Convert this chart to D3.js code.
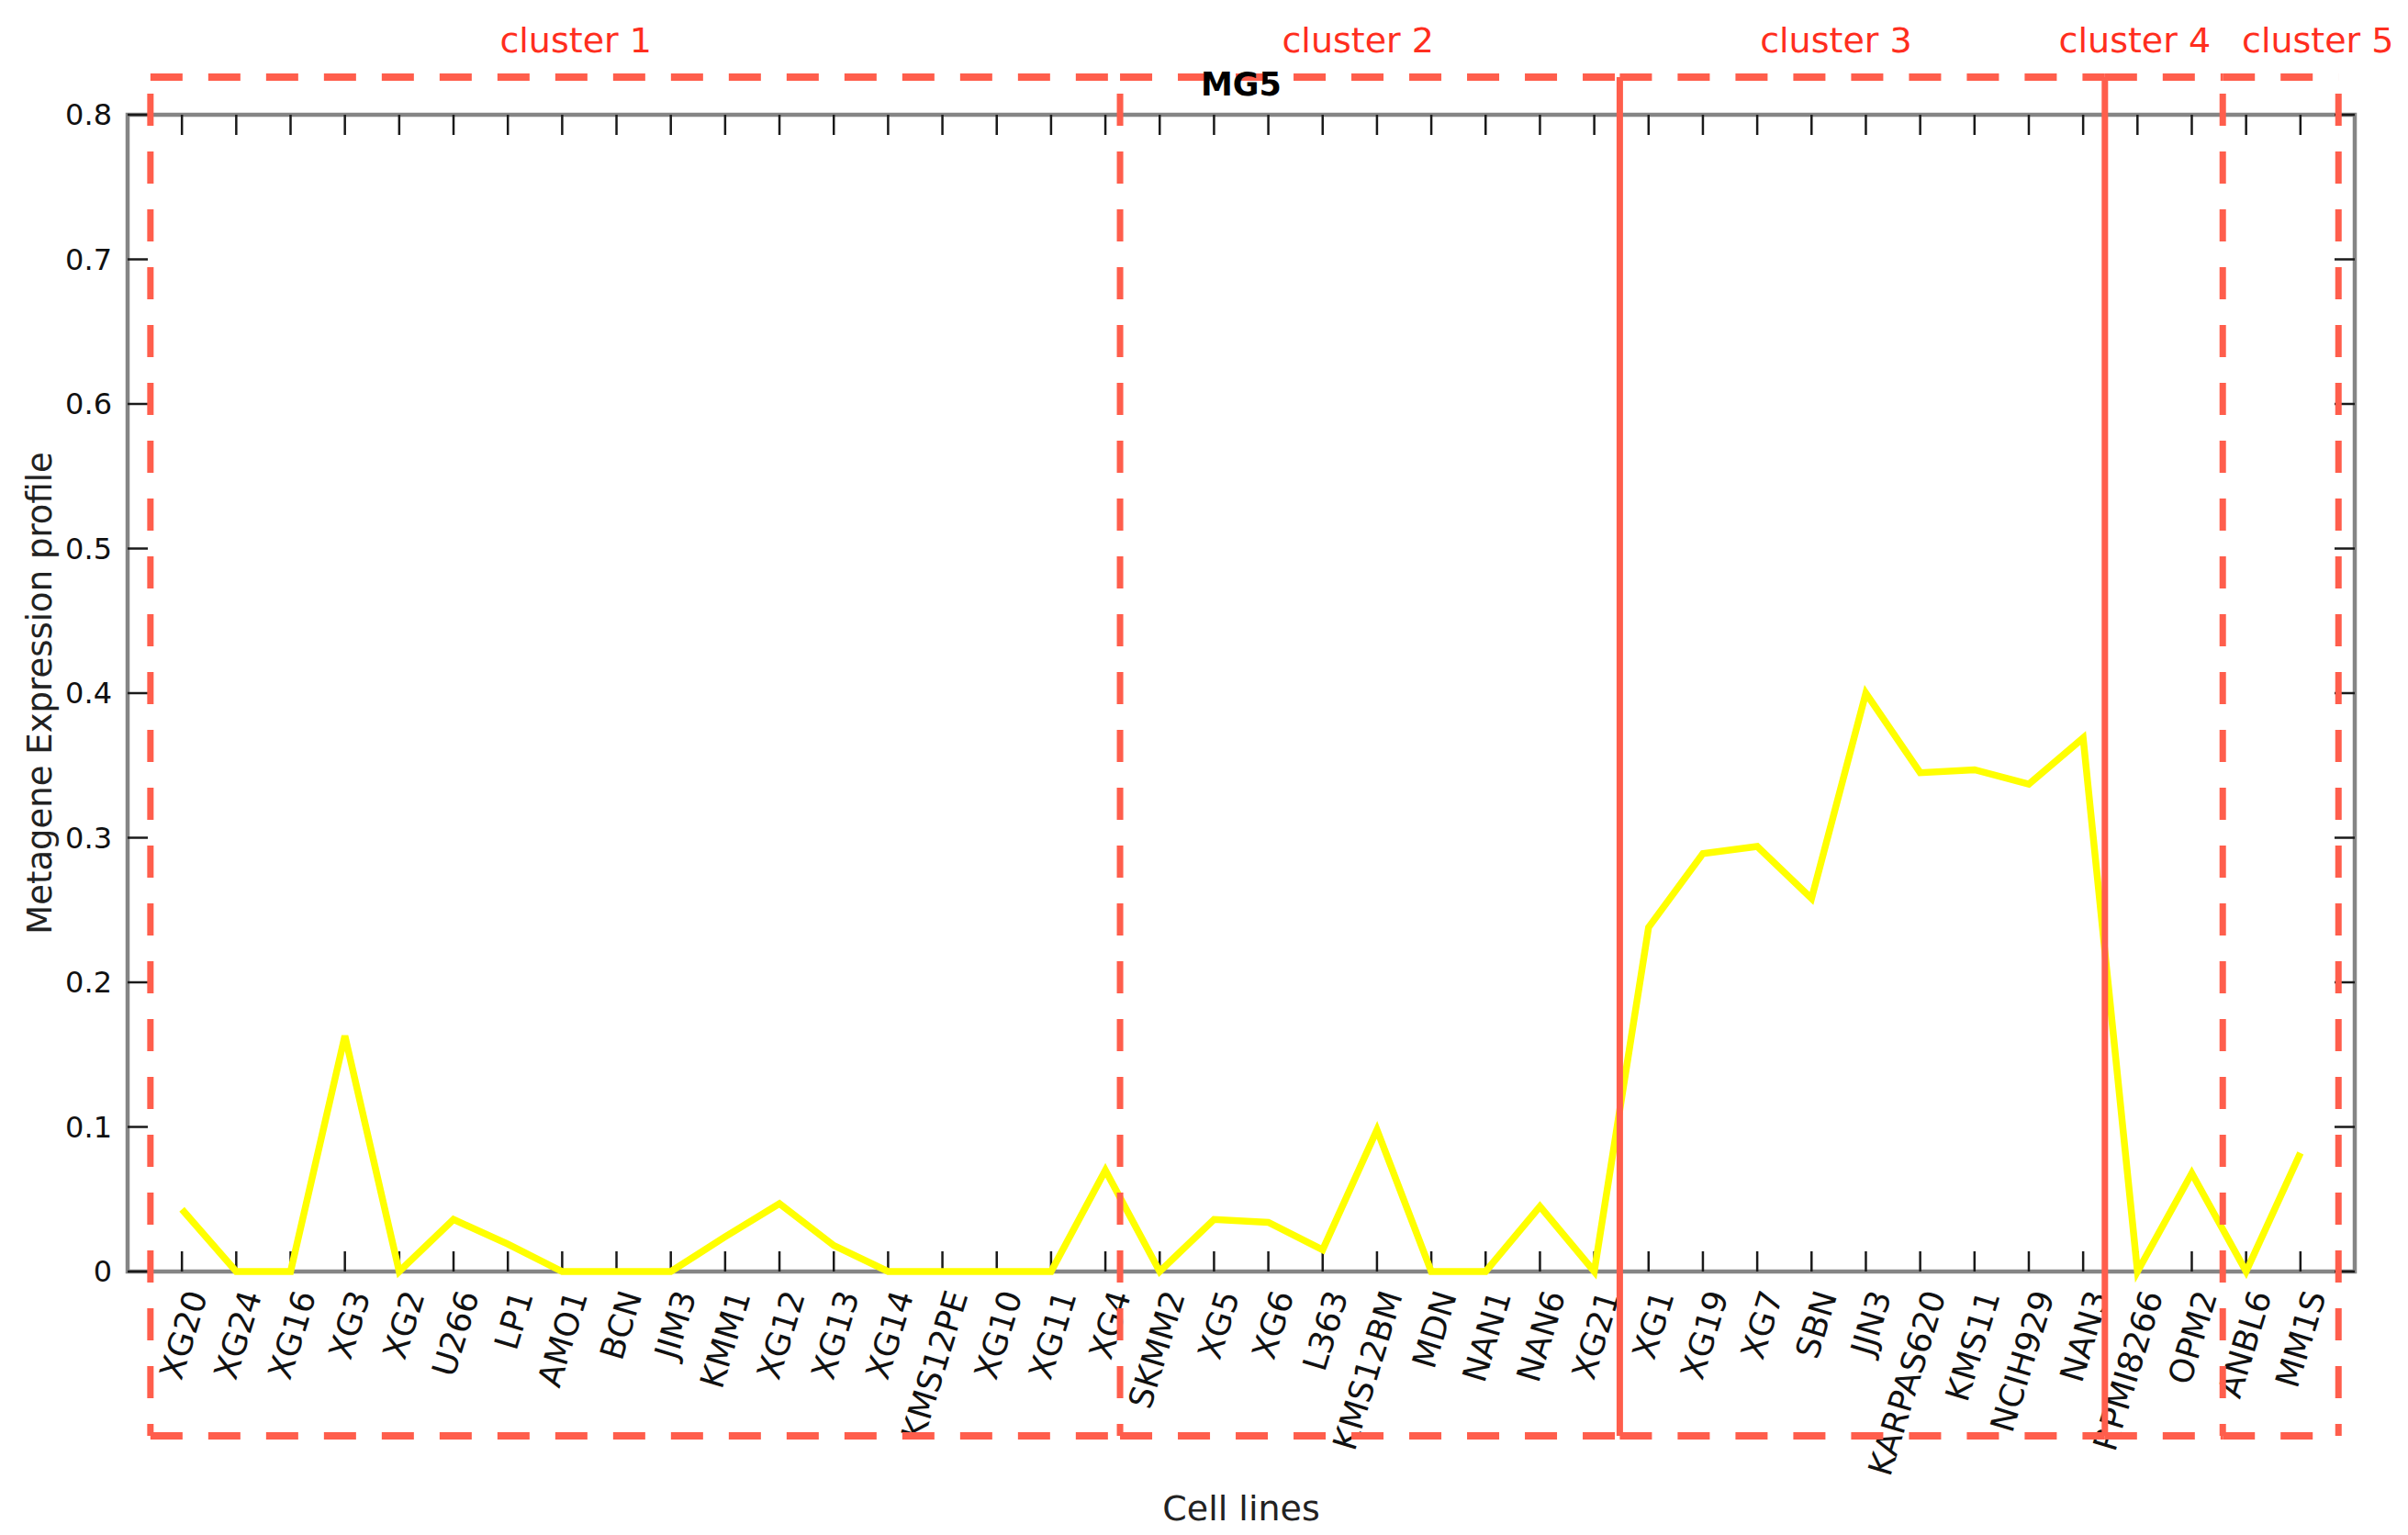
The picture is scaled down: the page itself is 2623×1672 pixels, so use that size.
<!DOCTYPE html>
<html>
<head>
<meta charset="utf-8">
<script src="https://cdn.jsdelivr.net/npm/d3@7"></script>
<style>
  html, body { margin: 0; padding: 0; background: #ffffff; }
  svg { display: block; }
  text { font-family: "DejaVu Sans", "Liberation Sans", sans-serif; }
</style>
</head>
<body>
<svg id="chart" width="2623" height="1672"></svg>
<script>
// ---------------- data ----------------
const categories = ["XG20","XG24","XG16","XG3","XG2","U266","LP1","AMO1","BCN","JIM3",
  "KMM1","XG12","XG13","XG14","KMS12PE","XG10","XG11","XG4",
  "SKMM2","XG5","XG6","L363","KMS12BM","MDN","NAN1","NAN6","XG21",
  "XG1","XG19","XG7","SBN","JJN3","KARPAS620","KMS11","NCIH929","NAN3",
  "RPMI8266","OPM2","ANBL6","MM1S"];
const values = [0.043,0,0,0.163,0,0.036,0.019,0,0,0,
  0.024,0.047,0.018,0,0,0,0,0.070,
  0,0.036,0.034,0.015,0.098,0,0,0.045,0,
  0.238,0.289,0.294,0.258,0.400,0.345,0.347,0.337,0.369,
  0,0.068,0,0.082];
const yTicks = [0,0.1,0.2,0.3,0.4,0.5,0.6,0.7,0.8];
const yTickLabels = ["0","0.1","0.2","0.3","0.4","0.5","0.6","0.7","0.8"];
const clusterNames = ["cluster 1","cluster 2","cluster 3","cluster 4","cluster 5"];
// cluster box edges and label centres, in category-index units (1 = first cell line)
const clusterEdges = [0.42, 18.27, 27.47, 36.4, 38.57, 40.7];
const clusterLabelAt = [8.25, 22.65, 31.45, 36.95, 40.32];
const titleText = "MG5";
const xLabel = "Cell lines";
const yLabel = "Metagene Expression profile";

// ---------------- layout ----------------
const L = 139, R = 2565, T = 125, B = 1385;
const boxTop = 84, boxBottom = 1564;
const svg = d3.select("#chart");

const x = d3.scaleLinear().domain([0, categories.length + 1]).range([L, R]);
const y = d3.scaleLinear().domain([0, 0.8]).range([B, T]);
const idx = d3.range(1, categories.length + 1);

const tickColor = "#1a1a1a";
const axisColor = "#858585";
const red = "#FF5E4C";

// axes box
svg.append("rect").attr("x", L).attr("y", T).attr("width", R - L).attr("height", B - T)
  .attr("fill", "none").attr("stroke", axisColor).attr("stroke-width", 4.5);

// x ticks (bottom & top, inward)
const xt = svg.append("g");
xt.selectAll("line.b").data(idx).join("line").attr("class", "b")
  .attr("x1", d => x(d)).attr("x2", d => x(d)).attr("y1", B).attr("y2", B - 22)
  .attr("stroke", tickColor).attr("stroke-width", 2.5);
xt.selectAll("line.t").data(idx).join("line").attr("class", "t")
  .attr("x1", d => x(d)).attr("x2", d => x(d)).attr("y1", T).attr("y2", T + 22)
  .attr("stroke", tickColor).attr("stroke-width", 2.5);

// y ticks (left & right, inward)
const yt = svg.append("g");
yt.selectAll("line.l").data(yTicks).join("line").attr("class", "l")
  .attr("x1", L).attr("x2", L + 22).attr("y1", d => y(d)).attr("y2", d => y(d))
  .attr("stroke", tickColor).attr("stroke-width", 2.5);
yt.selectAll("line.r").data(yTicks).join("line").attr("class", "r")
  .attr("x1", R).attr("x2", R - 22).attr("y1", d => y(d)).attr("y2", d => y(d))
  .attr("stroke", tickColor).attr("stroke-width", 2.5);

// y tick labels
svg.append("g").selectAll("text").data(yTicks).join("text")
  .attr("x", L - 17).attr("y", d => y(d)).attr("dy", "0.35em")
  .attr("text-anchor", "end").attr("font-size", 32).attr("fill", "#111")
  .text((d, i) => yTickLabels[i]);

// x tick labels (rotated)
svg.append("g").selectAll("text").data(categories).join("text")
  .attr("transform", (d, i) => `translate(${x(i + 1) + 16},1407) rotate(-73)`)
  .attr("dy", "0.35em").attr("text-anchor", "end")
  .attr("font-size", 36).attr("fill", "#111")
  .text(d => d);

// data line
const line = d3.line().x((d, i) => x(i + 1)).y(d => y(d));
svg.append("path").datum(values).attr("d", line)
  .attr("fill", "none").attr("stroke", "#FFFF00").attr("stroke-width", 7.5)
  .attr("stroke-linejoin", "miter");

// cluster boxes
const boxes = svg.append("g");
const dash = "35 28";
for (let k = 0; k < clusterNames.length; k++) {
  const xl = x(clusterEdges[k]), xr = x(clusterEdges[k + 1]);
  boxes.append("line").attr("x1", xl).attr("x2", xr).attr("y1", boxTop).attr("y2", boxTop)
    .attr("stroke", red).attr("stroke-width", 8).attr("stroke-dasharray", dash);
  boxes.append("line").attr("x1", xl).attr("x2", xr).attr("y1", boxBottom).attr("y2", boxBottom)
    .attr("stroke", red).attr("stroke-width", 8).attr("stroke-dasharray", dash);
}
clusterEdges.forEach((e, i) => {
  const solid = (i === 2 || i === 3);
  const ln = boxes.append("line").attr("x1", x(e)).attr("x2", x(e))
    .attr("y1", boxTop).attr("y2", boxBottom)
    .attr("stroke", red).attr("stroke-width", 7);
  if (!solid) ln.attr("stroke-dasharray", dash).attr("stroke-dashoffset", -18);
});

// cluster labels
svg.append("g").selectAll("text").data(clusterNames).join("text")
  .attr("x", (d, i) => x(clusterLabelAt[i])).attr("y", 57)
  .attr("text-anchor", "middle").attr("font-size", 38).attr("fill", "#FF2E1E")
  .text(d => d);

// title
svg.append("text").attr("x", (L + R) / 2).attr("y", 104).attr("text-anchor", "middle")
  .attr("font-size", 35).attr("font-weight", "bold").attr("fill", "#000").text(titleText);

// axis labels
svg.append("text").attr("x", (L + R) / 2).attr("y", 1656).attr("text-anchor", "middle")
  .attr("font-size", 38).attr("fill", "#222").text(xLabel);
svg.append("text").attr("transform", `translate(56,${(T + B) / 2}) rotate(-90)`)
  .attr("text-anchor", "middle").attr("font-size", 37).attr("fill", "#222").text(yLabel);
</script>
</body>
</html>
